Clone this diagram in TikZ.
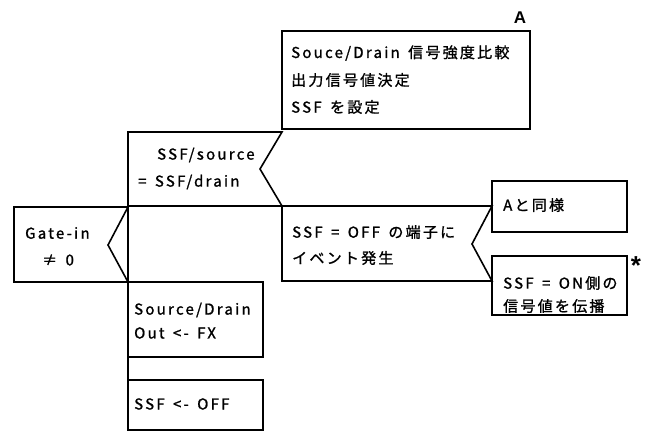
\documentclass[tikz,border=0pt]{standalone}
\usepackage{fontspec}
\setmainfont{Noto Sans CJK JP}[LetterSpace=15, WordSpace=1.5, FakeBold=1.2]
\newfontfamily\labfont{Liberation Sans}
\tikzset{
  box/.style={line width=1.6pt, line join=miter, line cap=rect},
  txt/.style={anchor=west, inner sep=0pt, font=\fontsize{15}{17}\selectfont},
  lab/.style={inner sep=0pt, font=\labfont\bfseries\fontsize{17}{17}\selectfont},
}
\begin{document}
\begin{tikzpicture}[x=1pt,y=-1pt]
\useasboundingbox (0,0) rectangle (646,431);
% coordinates
\coordinate (spTop) at (128,132);
\coordinate (spBot) at (128,431);
% Box A
\draw[box] (282,31) rectangle (530,129);
% SSF/source selection box
\draw[box] (128,132) -- (282,132) -- (260,169) -- (282,206) -- (128,206);
% Gate-in selection box
\draw[box] (128,207) -- (14,207) -- (14,282) -- (128,282);
\draw[box] (128,207) -- (108,245) -- (128,282);
% spine
\draw[box] (spTop) -- (spBot);
% SSF = OFF selection box
\draw[box] (282,206) -- (492,206) -- (472,244) -- (492,281) -- (282,281) -- cycle;
% A と同様
\draw[box] (492,181) rectangle (627,232);
% SSF = ON
\draw[box] (492,256) rectangle (627,315);
% Source/Drain
\draw[box] (128,282) -- (263,282) -- (263,357) -- (128,357);
% SSF <- OFF
\draw[box] (128,380) -- (263,380) -- (263,430) -- (128,430);

% texts
\node[txt] (a1) at (291,53) {Souce/Drain 信号強度比較};
\node[txt] (a2) at (291,80) {出力信号値決定};
\node[txt] (a3) at (291,107) {SSF を設定};
\node[lab] (alab) at (520,18) {A};
\node[txt] (s1) at (157,155) {SSF/source};
\node[txt] (s2) at (138,182) {= SSF/drain};
\node[txt] (g1) at (25,233) {Gate-in};
\node[txt] (g2) at (42,260) {≠ 0};
\node[txt] (o1) at (292,232) {SSF = OFF の端子に};
\node[txt] (o2) at (292,258) {イベント発生};
\node[txt] (as) at (503,205) {Aと同様};
\node[txt] (n1) at (503,283) {SSF = ON側の};
\node[txt] (n2) at (503,306) {信号値を伝播};
\node[lab, font=\labfont\bfseries\fontsize{26}{26}\selectfont] (ast) at (636,266) {*};
\node[txt] (d1) at (134,310) {Source/Drain};
\node[txt] (d2) at (134,333) {Out <- FX};
\node[txt] (f1) at (134,404) {SSF <- OFF};
\end{tikzpicture}
\end{document}
